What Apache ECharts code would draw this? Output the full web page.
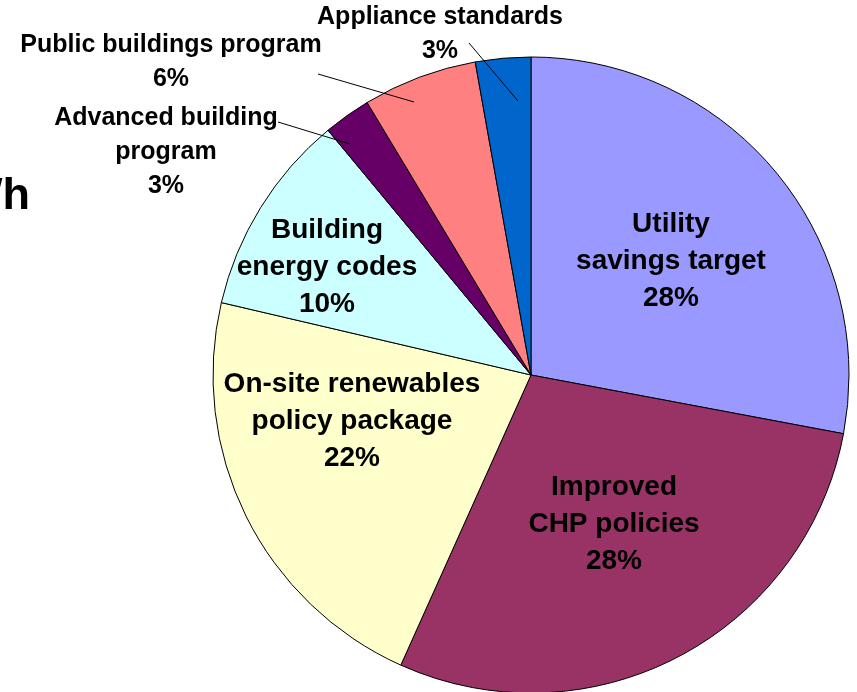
<!DOCTYPE html>
<html>
<head>
<meta charset="utf-8">
<script src="https://cdn.jsdelivr.net/npm/echarts@6/dist/echarts.min.js"></script>
<style>
html,body{margin:0;padding:0;background:#fff;}
#main{width:857px;height:692px;}
</style>
</head>
<body>
<div id="main"></div>
<script>
// ---- data ----
const categories = ['Utility savings target', 'Improved CHP policies', 'On-site renewables policy package', 'Building energy codes', 'Advanced building program', 'Public buildings program', 'Appliance standards'];
const labelNames = ['Utility\nsavings target', 'Improved\nCHP policies', 'On-site renewables\npolicy package', 'Building\nenergy codes', 'Advanced building\nprogram', 'Public buildings program', 'Appliance standards'];
const values = [27.9, 28.7, 21.9, 10.3, 2.4, 5.8, 2.8];
const pctLabels = ['28%', '28%', '22%', '10%', '3%', '6%', '3%'];
const colors = ['#9999FF', '#993366', '#FFFFCC', '#CCFFFF', '#660066', '#FF8080', '#0066CC'];

// ---- label placement (layout only) ----
const inside = [true, true, true, true, false, false, false];
const labelPos = [[671, 261], [614, 524], [352, 421], [327, 267], [166, 152], [171, 62], [440, 34]];
const leaderLines = [null, null, null, null,
  [[278, 122], [350, 144]],
  [[318, 74], [414, 102]],
  [[469, 43], [518, 101]]];

const chart = echarts.init(document.getElementById('main'), null, {renderer: 'canvas'});
const data = values.map((v, i) => ({
  name: categories[i],
  value: v,
  itemStyle: {color: colors[i]},
  label: {
    position: inside[i] ? 'inside' : 'outside',
    fontSize: inside[i] ? 28 : 25,
    lineHeight: inside[i] ? 37 : 34,
    formatter: labelNames[i] + '\n' + pctLabels[i]
  },
  labelLine: {show: false}
}));

const graphics = [{
  type: 'text',
  x: 30, y: 197,
  style: {
    text: 'Wh',
    font: 'bold 45px "Liberation Sans", Arial, sans-serif',
    fill: '#000',
    align: 'right',
    verticalAlign: 'middle'
  }
}];
leaderLines.forEach(pts => {
  if (!pts) return;
  graphics.push({
    type: 'polyline',
    z: 100,
    shape: {points: pts},
    style: {stroke: '#000', lineWidth: 1, fill: null}
  });
});

chart.setOption({
  animation: false,
  backgroundColor: '#fff',
  graphic: graphics,
  series: [{
    type: 'pie',
    center: [531, 375],
    radius: [0, 318],
    startAngle: 90,
    clockwise: true,
    avoidLabelOverlap: false,
    emphasis: {disabled: true},
    itemStyle: {borderColor: '#000', borderWidth: 1},
    label: {
      show: true,
      color: '#000',
      fontWeight: 'bold',
      fontFamily: '"Liberation Sans", Arial, sans-serif',
      align: 'center'
    },
    labelLine: {show: false},
    labelLayout: function (params) {
      const i = params.dataIndex;
      return {
        x: labelPos[i][0],
        y: labelPos[i][1],
        align: 'center',
        verticalAlign: 'middle'
      };
    },
    data: data
  }]
});
</script>
</body>
</html>
